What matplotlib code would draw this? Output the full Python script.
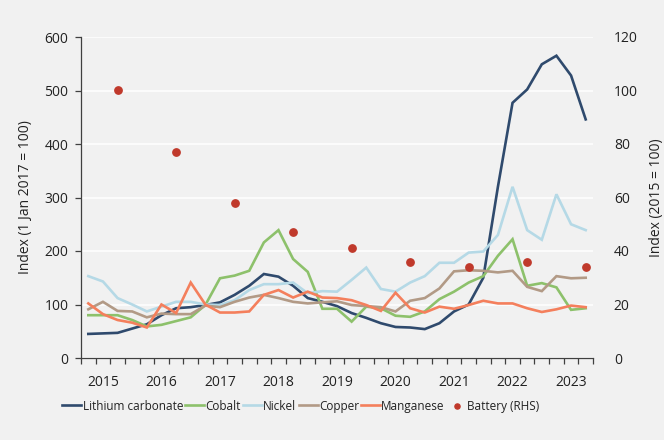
import matplotlib
matplotlib.use("Agg")
import matplotlib.pyplot as plt
from matplotlib.ticker import FixedLocator
import numpy as np

# quarterly series, Q1 2015 .. Q3 2023 (index 1 Jan 2017 = 100)
lithium = [45, 46, 47, 55, 63, 80, 93, 95, 99, 104, 118, 135, 157, 152, 135, 112, 105, 97,
           84, 75, 65, 58, 57, 54, 65, 87, 100, 150, 320, 477, 502, 549, 565, 528, 446]
cobalt = [80, 80, 80, 71, 59, 62, 69, 76, 99, 149, 154, 163, 216, 239, 185, 161, 92, 92,
          68, 96, 93, 79, 77, 87, 110, 124, 141, 153, 191, 222, 135, 140, 132, 90, 93]
nickel = [153, 143, 112, 100, 87, 96, 105, 105, 100, 99, 108, 127, 138, 138, 141, 121, 125, 124,
          146, 169, 129, 124, 141, 153, 178, 178, 197, 199, 230, 320, 239, 221, 306, 250, 239]
copper = [91, 105, 88, 87, 76, 83, 82, 82, 98, 95, 105, 113, 118, 112, 105, 102, 104, 106,
          99, 97, 95, 87, 107, 112, 130, 162, 164, 163, 160, 163, 133, 125, 153, 149, 150]
manganese = [102, 82, 71, 66, 57, 100, 84, 141, 100, 85, 85, 87, 118, 127, 113, 124, 113, 112,
             108, 99, 88, 122, 93, 85, 96, 92, 99, 107, 102, 102, 93, 86, 91, 98, 95]

# annual battery pack index (2015 = 100), plotted at Q3 of each year
battery = [100, 77, 58, 47, 41, 36, 34, 36, 34]
battery_idx = [2, 6, 10, 14, 18, 22, 26, 30, 34]

years = ['2015', '2016', '2017', '2018', '2019', '2020', '2021', '2022', '2023']

series = [
    ('Lithium carbonate', lithium, '#2f4a6d'),
    ('Cobalt', cobalt, '#8dc16b'),
    ('Nickel', nickel, '#b5d9e6'),
    ('Copper', copper, '#b29a86'),
    ('Manganese', manganese, '#f47f5c'),
]

plt.rcParams['font.family'] = ['Open Sans', 'DejaVu Sans']
bg = '#f1f1f1'
axis_col = '#404040'
text_col = '#222222'

fig = plt.figure(figsize=(6.64, 4.4), dpi=100, facecolor=bg)
ax = fig.add_axes([81 / 664, 1 - 358 / 440, (593 - 81) / 664, (358 - 37) / 440])
ax.set_facecolor(bg)

x = np.arange(len(lithium))
for name, vals, col in series:
    ax.plot(x, vals, color=col, lw=1.9, label=name, zorder=3, solid_joinstyle='miter')

ax.set_xlim(-0.5, len(lithium) - 0.5)
ax.set_ylim(0, 600)
ax.set_yticks(np.arange(0, 601, 100))
ax.grid(axis='y', color='white', lw=1.1, zorder=0)
ax.set_axisbelow(True)

ax.xaxis.set_major_locator(FixedLocator([1 + 4 * k for k in range(len(years))]))
ax.set_xticklabels(years)
ax.xaxis.set_minor_locator(FixedLocator(np.arange(-0.5, len(lithium), 1.0)))
ax.tick_params(axis='x', which='major', length=0, pad=12, labelsize=10, colors=text_col)
ax.tick_params(axis='x', which='minor', length=4, width=0.9, color=axis_col, direction='out')
ax.tick_params(axis='y', length=4, width=0.9, color=axis_col, labelsize=10, labelcolor=text_col, pad=5)

for s in ['top', 'right']:
    ax.spines[s].set_visible(False)
for s in ['left', 'bottom']:
    ax.spines[s].set_color(axis_col)
    ax.spines[s].set_linewidth(0.9)

ax.set_ylabel('Index (1 Jan 2017 = 100)', fontsize=10, color=text_col, labelpad=8)

ax2 = ax.twinx()
ax2.set_ylim(0, 120)
ax2.set_yticks(np.arange(0, 121, 20))
ax2.scatter(battery_idx, battery, s=28, color='#c0392b', zorder=4, label='Battery (RHS)')
ax2.tick_params(axis='y', length=0, labelsize=10, labelcolor=text_col, pad=15)
for s in ['top', 'right', 'left', 'bottom']:
    ax2.spines[s].set_visible(False)
ax2.set_ylabel('Index (2015 = 100)', fontsize=10, color=text_col, labelpad=8)

h1, l1 = ax.get_legend_handles_labels()
h2, l2 = ax2.get_legend_handles_labels()
fig.legend(h1 + h2, l1 + l2, loc='center', bbox_to_anchor=(301 / 664, 1 - 406 / 440),
           ncol=6, frameon=False, fontsize=8.5, handlelength=1.6, handletextpad=0.1,
           columnspacing=0.2, labelcolor=text_col, scatterpoints=1, markerscale=0.7)

fig.savefig('out.png', dpi=100, facecolor=bg)
